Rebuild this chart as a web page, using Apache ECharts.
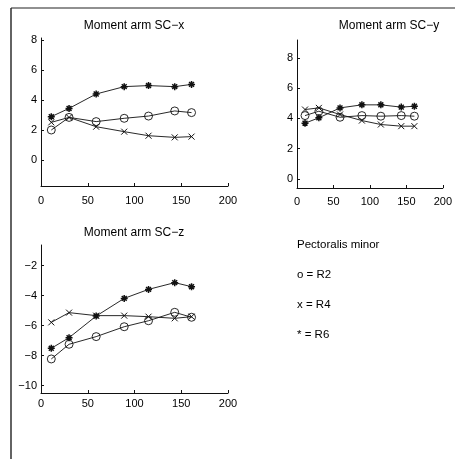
<!DOCTYPE html>
<html>
<head>
<meta charset="utf-8">
<script src="https://cdn.jsdelivr.net/npm/echarts@6/dist/echarts.min.js"></script>
<style>
  html, body { margin: 0; padding: 0; background: #fff; }
  #chart { width: 455px; height: 459px; }
</style>
</head>
<body>
<div id="chart"></div>
<script>
// Shoulder elevation angles (deg) at which moment arms were measured
const angles = [11, 30, 59, 89, 115, 143, 161];

// Moment arm about SC x-axis
const scxR2 = [2.00, 2.84, 2.56, 2.78, 2.93, 3.27, 3.16];
const scxR4 = [2.51, 2.84, 2.22, 1.89, 1.62, 1.51, 1.56];
const scxR6 = [2.89, 3.44, 4.40, 4.89, 4.96, 4.89, 5.04];

// Moment arm about SC y-axis
const scyR2 = [4.19, 4.48, 4.08, 4.19, 4.15, 4.19, 4.15];
const scyR4 = [4.59, 4.70, 4.26, 3.86, 3.60, 3.49, 3.49];
const scyR6 = [3.69, 4.04, 4.70, 4.90, 4.90, 4.75, 4.81];

// Moment arm about SC z-axis
const sczR2 = [-8.22, -7.24, -6.73, -6.07, -5.67, -5.11, -5.44];
const sczR4 = [-5.78, -5.13, -5.33, -5.33, -5.40, -5.51, -5.40];
const sczR6 = [-7.51, -6.80, -5.36, -4.18, -3.58, -3.13, -3.40];

// Tick labels
const xTicks = [0, 50, 100, 150, 200];
const yTicksX = [0, 2, 4, 6, 8];
const yTicksY = [0, 2, 4, 6, 8];
const yTicksZ = [-10, -8, -6, -4, -2];

const titles = ['Moment arm SC\u2212x', 'Moment arm SC\u2212y', 'Moment arm SC\u2212z'];
const legendLines = ['Pectoralis minor', 'o = R2', 'x = R4', '* = R6'];

const FONT = 'Liberation Sans, Arial, Helvetica, sans-serif';
const INK = '#111';

// Marker outlines: open circle, cross, asterisk
const markerR2 = 'path://M10 5A5 5 0 1 1 0 5A5 5 0 1 1 10 5Z';
const markerR4 = 'path://M0 0L10 10M10 0L0 10';
const markerR6 = 'path://M1.5 1.5L8.5 8.5M8.5 1.5L1.5 8.5M5 0L5 10M0 5L10 5';

function pairs(ys) { return angles.map((a, i) => [a, ys[i]]); }

function xAxisFor(gi, margin) {
  return {
    gridIndex: gi, type: 'value', min: 0, max: 200,
    axisLine: { show: true, onZero: false, lineStyle: { color: INK, width: 1 } },
    axisTick: { show: true, inside: true, length: 3, customValues: xTicks, lineStyle: { color: INK } },
    axisLabel: { customValues: xTicks, color: '#000', fontSize: 11, fontFamily: FONT, margin: margin },
    splitLine: { show: false }
  };
}

function yAxisFor(gi, min, max, ticks) {
  return {
    gridIndex: gi, type: 'value', min: min, max: max,
    axisLine: { show: true, onZero: false, lineStyle: { color: INK, width: 1 } },
    axisTick: { show: true, inside: true, length: 3, customValues: ticks, lineStyle: { color: INK } },
    axisLabel: {
      customValues: ticks, color: '#000', fontSize: 11, fontFamily: FONT, margin: 4,
      formatter: v => String(v).replace('-', '\u2212')
    },
    splitLine: { show: false }
  };
}

function seriesFor(gi, ys, symbol, size, stroke) {
  return {
    type: 'line', xAxisIndex: gi, yAxisIndex: gi,
    data: pairs(ys), symbol: symbol, symbolSize: size,
    showAllSymbol: true, animation: false,
    lineStyle: { color: INK, width: 0.9 },
    itemStyle: { color: 'rgba(0,0,0,0)', borderColor: INK, borderWidth: stroke },
    z: 3
  };
}

const chart = echarts.init(document.getElementById('chart'), null, { renderer: 'canvas' });

chart.setOption({
  backgroundColor: '#fff',
  animation: false,
  title: [
    { text: titles[0], left: 134, top: 20, textAlign: 'center', padding: 0,
      textStyle: { fontSize: 12, fontWeight: 'normal', color: '#000', fontFamily: FONT } },
    { text: titles[1], left: 389, top: 20, textAlign: 'center', padding: 0,
      textStyle: { fontSize: 12, fontWeight: 'normal', color: '#000', fontFamily: FONT } },
    { text: titles[2], left: 134, top: 227, textAlign: 'center', padding: 0,
      textStyle: { fontSize: 12, fontWeight: 'normal', color: '#000', fontFamily: FONT } }
  ],
  grid: [
    { left: 41, top: 38, width: 187, height: 148 },
    { left: 297, top: 40, width: 186, height: 148 },
    { left: 41, top: 245, width: 187, height: 148 }
  ],
  xAxis: [xAxisFor(0, 9), xAxisFor(1, 8), xAxisFor(2, 5)],
  yAxis: [
    yAxisFor(0, -1.73, 8.13, yTicksX),
    yAxisFor(1, -0.6, 9.19, yTicksY),
    yAxisFor(2, -10.49, -0.62, yTicksZ)
  ],
  series: [
    seriesFor(0, scxR2, markerR2, 8, 0.9),
    seriesFor(0, scxR4, markerR4, 6, 1),
    seriesFor(0, scxR6, markerR6, 7, 1.5),
    seriesFor(1, scyR2, markerR2, 8, 0.9),
    seriesFor(1, scyR4, markerR4, 6, 1),
    seriesFor(1, scyR6, markerR6, 7, 1.5),
    seriesFor(2, sczR2, markerR2, 8, 0.9),
    seriesFor(2, sczR4, markerR4, 6, 1),
    seriesFor(2, sczR6, markerR6, 7, 1.5)
  ],
  graphic: [
    // page frame (top and left edges)
    { type: 'line', shape: { x1: 11, y1: 8, x2: 455, y2: 8 },
      style: { stroke: '#222', lineWidth: 1.2 } },
    { type: 'line', shape: { x1: 11, y1: 8, x2: 11, y2: 459 },
      style: { stroke: '#222', lineWidth: 1.4 } },
    // annotation block
    ...legendLines.map((t, i) => ({
      type: 'text', left: 297, top: 239 + i * 30,
      style: { text: t, fill: '#000', font: '11.5px ' + FONT }
    }))
  ]
});
</script>
</body>
</html>
